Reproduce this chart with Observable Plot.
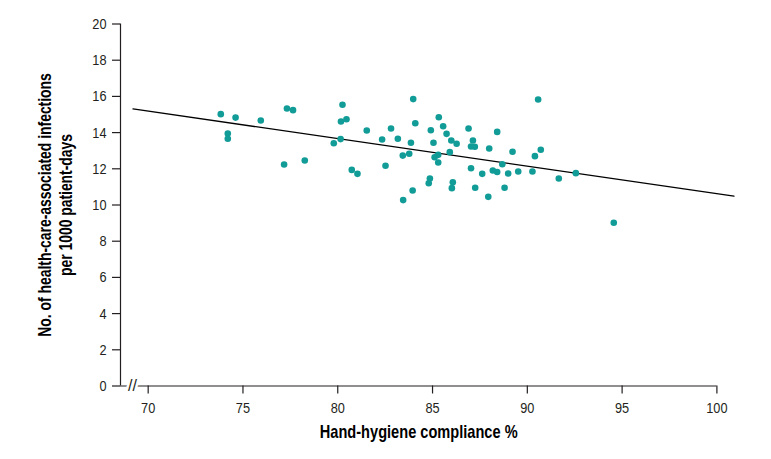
<!DOCTYPE html>
<html>
<head>
<meta charset="utf-8">
<script src="https://cdn.jsdelivr.net/npm/d3@7"></script>
<script src="https://cdn.jsdelivr.net/npm/@observablehq/plot@0.6"></script>
<style>
  html, body { margin: 0; padding: 0; background: white; }
  svg { display: block; }
</style>
</head>
<body>
<div id="chart"></div>
<script>
// Hand-hygiene compliance (%) per observation
const compliance = [73.83, 74.61, 74.20, 74.20, 75.94, 77.32, 77.64, 77.17, 78.26, 79.79,
  80.15, 80.25, 80.17, 80.46, 80.74, 81.04, 81.53, 82.34, 82.52, 82.81,
  83.17, 83.98, 84.09, 83.86, 83.43, 83.77, 83.45, 83.95, 84.80, 84.86,
  85.33, 84.91, 85.56, 85.74, 85.05, 85.99, 86.27, 85.11, 85.30, 85.30,
  85.91, 86.07, 86.02, 86.90, 87.13, 87.03, 87.23, 87.03, 87.25, 87.62,
  87.99, 88.41, 87.94, 88.18, 88.41, 88.68, 88.99, 88.80, 89.22, 89.52,
  90.27, 90.40, 90.71, 90.57, 91.66, 92.56, 94.56];
// Health-care-associated infections per 1000 patient-days
const infections = [15.02, 14.83, 13.95, 13.66, 14.67, 15.33, 15.24, 12.24, 12.46, 13.41,
  13.64, 15.54, 14.61, 14.74, 11.94, 11.72, 14.12, 13.62, 12.17, 14.23,
  13.66, 15.85, 14.52, 13.44, 12.73, 12.83, 10.27, 10.80, 11.20, 11.46,
  14.85, 14.13, 14.35, 13.93, 13.44, 13.56, 13.38, 12.64, 12.77, 12.35,
  12.92, 11.26, 10.93, 14.23, 13.56, 13.23, 13.22, 12.03, 10.95, 11.72,
  13.12, 14.04, 10.45, 11.91, 11.82, 12.25, 11.74, 10.95, 12.94, 11.85,
  11.85, 12.70, 13.05, 15.83, 11.46, 11.76, 9.02];
// Linear fit line end points
const fitX = [69.2, 100.9];
const fitY = [15.31, 10.49];
// Axes
const xDomain = [68.54, 100];
const yDomain = [0, 20];
const xTicks = [70, 75, 80, 85, 90, 95, 100];
const yTicks = [0, 2, 4, 6, 8, 10, 12, 14, 16, 18, 20];
const xTitle = "Hand-hygiene compliance %";
const yTitle1 = "No. of health-care-associated infections";
const yTitle2 = "per 1000 patient-days";

const points = compliance.map((c, i) => ({x: c, y: infections[i]}));
const fit = fitX.map((x, i) => ({x, y: fitY[i]}));

const FONT = "'Liberation Sans', Arial, sans-serif";
const INK = "#231f20";
const TEAL = "#119c98";

const chart = Plot.plot({
  width: 771,
  height: 459,
  marginLeft: 120,
  marginRight: 54.6,
  marginTop: 23.5,
  marginBottom: 73.5,
  x: {domain: xDomain},
  y: {domain: yDomain},
  style: {fontFamily: FONT, fontSize: "15px", color: INK, background: "white"},
  marks: [
    Plot.ruleY([yDomain[0]], {stroke: INK, strokeWidth: 1.2}),
    Plot.ruleX([xDomain[0]], {stroke: INK, strokeWidth: 1.2}),
    Plot.axisX(xTicks, {tickSize: 8, tickPadding: 8, label: null, stroke: INK, strokeWidth: 1.2, fill: INK, fontSize: 15.5}),
    Plot.axisY(yTicks, {tickSize: 8, tickPadding: 6, label: null, stroke: INK, strokeWidth: 1.2, fill: INK, fontSize: 15.5}),
    Plot.text(["//"], {frameAnchor: "bottom-left", dx: 12, dy: 0, textAnchor: "middle", lineAnchor: "middle",
      fill: INK, stroke: "white", strokeWidth: 5, paintOrder: "stroke", fontSize: 16}),
    Plot.line(fit, {x: "x", y: "y", stroke: "black", strokeWidth: 1.3}),
    Plot.dot(points, {x: "x", y: "y", r: 3.3, fill: TEAL, stroke: null}),
    Plot.text([xTitle], {frameAnchor: "bottom", dy: 46, textAnchor: "middle", lineAnchor: "middle", fontSize: 18, fontWeight: "bold", fill: "black"}),
    Plot.text([yTitle1], {frameAnchor: "left", dx: -75.6, rotate: -90, textAnchor: "middle", lineAnchor: "middle", fontSize: 18, fontWeight: "bold", fill: "black"}),
    Plot.text([yTitle2], {frameAnchor: "left", dx: -54.6, rotate: -90, textAnchor: "middle", lineAnchor: "middle", fontSize: 18, fontWeight: "bold", fill: "black"})
  ]
});

document.getElementById("chart").appendChild(chart);

// Condensed look: scale each text horizontally (in its own frame) to the reference width.
function condense(el, target) {
  const natural = el.getComputedTextLength();
  if (!natural) return;
  const sx = target / natural;
  const tr = el.getAttribute("transform") || "";
  const xa = el.getAttribute("x");
  if (xa !== null && parseFloat(xa)) el.setAttribute("x", parseFloat(xa) / sx);
  el.setAttribute("transform", `${tr} scale(${sx},1)`);
}
const titleWidths = {[xTitle]: 198, [yTitle1]: 264, [yTitle2]: 142};
d3.select(chart).selectAll("text").each(function () {
  const L = titleWidths[this.textContent];
  if (L) condense(this, L);
});
d3.select(chart)
  .selectAll('g[aria-label="x-axis tick label"] text, g[aria-label="y-axis tick label"] text')
  .each(function () { condense(this, this.textContent.length * 7.1); });
</script>
</body>
</html>
